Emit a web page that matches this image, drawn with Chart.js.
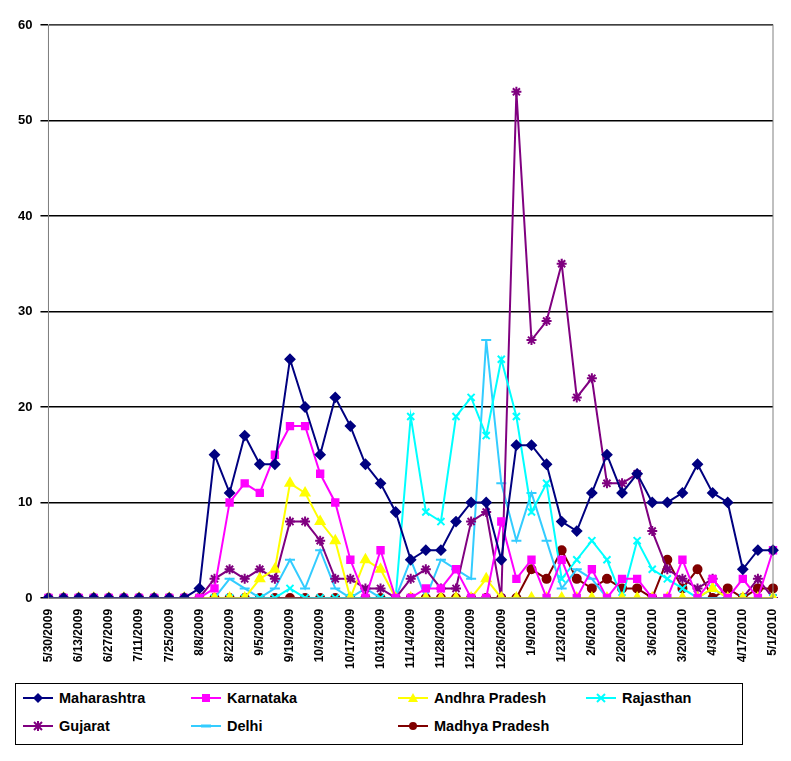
<!DOCTYPE html>
<html><head><meta charset="utf-8">
<script src="https://cdn.jsdelivr.net/npm/chart.js@4"></script>
<style>
body{margin:0;background:#fff;font-family:"Liberation Sans",Arial,sans-serif;}
#wrap{position:absolute;left:0;top:0;width:791px;height:672px;}
#legend{position:absolute;left:15px;top:683px;width:726px;height:60px;border:1px solid #000;font-weight:bold;font-size:14.5px;}
.it{position:absolute;display:flex;align-items:center;}
.it svg{margin-right:6px;}
</style></head><body>
<div id="wrap"><canvas id="c" width="791" height="672"></canvas></div>
<div id="legend"></div>
<script>
const labels=[];
(function(){let d=new Date(2009,4,30);for(let i=0;i<49;i++){labels.push((d.getMonth()+1)+'/'+d.getDate()+'/'+d.getFullYear());d.setDate(d.getDate()+7);}})();
const maharashtra=[0,0,0,0,0,0,0,0,0,0,1,15,11,17,14,14,25,20,15,21,18,14,12,9,4,5,5,8,10,10,4,16,16,14,8,7,11,15,11,13,10,10,11,14,11,10,3,5,5];
const karnataka=[0,0,0,0,0,0,0,0,0,0,0,1,10,12,11,15,18,18,13,10,4,0,5,0,0,1,1,3,0,0,8,2,4,0,4,0,3,0,2,2,0,0,4,0,2,0,2,0,5];
const andhra=[0,0,0,0,0,0,0,0,0,0,0,0,0,0,2,3,12,11,8,6,0,4,3,0,0,0,0,0,0,2,0,0,0,0,0,0,0,0,0,0,0,0,0,0,1,0,0,0,0];
const rajasthan=[0,0,0,0,0,0,0,0,0,0,0,0,0,0,0,0,1,0,0,0,0,0,0,0,19,9,8,19,21,17,25,19,9,12,2,4,6,4,0,6,3,2,1,0,1,0,0,0,0];
const gujarat=[0,0,0,0,0,0,0,0,0,0,0,2,3,2,3,2,8,8,6,2,2,1,1,0,2,3,1,1,8,9,0,53,27,29,35,21,23,12,12,13,7,3,2,1,2,0,0,2,0];
const delhi=[0,0,0,0,0,0,0,0,0,0,0,0,2,1,0,1,4,1,5,1,0,1,0,0,4,0,4,3,2,27,12,6,11,6,1,3,2,0,0,0,0,0,0,0,0,0,0,0,0];
const madhya=[0,0,0,0,0,0,0,0,0,0,0,0,0,0,0,0,0,0,0,0,0,0,0,0,0,0,0,0,0,0,0,0,3,2,5,2,1,2,1,1,0,4,1,3,0,1,0,1,1];
const yTicks=[0,10,20,30,40,50,60];
const series=[
 {label:'Maharashtra',data:maharashtra,color:'#000080',ps:'rectRot',r:4.5},
 {label:'Karnataka',data:karnataka,color:'#FF00FF',ps:'rect',r:4.5},
 {label:'Andhra Pradesh',data:andhra,color:'#FFFF00',ps:'triangle',r:5},
 {label:'Rajasthan',data:rajasthan,color:'#00FFFF',ps:'crossRot',r:5},
 {label:'Gujarat',data:gujarat,color:'#800080',ps:'star',r:5},
 {label:'Delhi',data:delhi,color:'#33CCFF',ps:'line',r:5},
 {label:'Madhya Pradesh',data:madhya,color:'#800000',ps:'circle',r:4}
];
new Chart(document.getElementById('c'),{type:'line',
 data:{labels,datasets:series.map(s=>({label:s.label,data:s.data,borderColor:s.color,backgroundColor:s.color,pointStyle:s.ps,pointRadius:s.r,pointBorderColor:s.color,pointBorderWidth:2,borderWidth:2,tension:0}))},
 options:{responsive:false,animation:false,devicePixelRatio:1,
  layout:{padding:{top:25,right:18,left:10}},
  plugins:{legend:{display:false},tooltip:{enabled:false}},
  scales:{
   x:{grid:{display:false,drawTicks:true},border:{color:'#808080'},
      ticks:{autoSkip:false,maxRotation:90,minRotation:90,color:'#000',font:{family:'Liberation Sans',size:12,weight:'bold'},
      callback:function(v,i){return i%2===0?labels[i]:'';}}},
   y:{min:0,max:60,afterBuildTicks:a=>{a.ticks=yTicks.map(v=>({value:v}));},
      grid:{color:'#000',lineWidth:1.5},border:{color:'#808080'},
      ticks:{color:'#000',font:{family:'Liberation Sans',size:13,weight:'bold'},padding:8}}
  }},
 plugins:[{id:'frame',afterDraw(ch){const a=ch.chartArea,c=ch.ctx;c.save();c.strokeStyle='#808080';c.lineWidth=1;c.strokeRect(a.left,a.top,a.right-a.left,a.bottom-a.top);c.restore();}}]
});
const pos=[[7,6],[175,6],[382,6],[570,6],[7,34],[175,34],[382,34]];
const lg=document.getElementById('legend');
function sym(s){let m='';const c=s.color;
 if(s.ps==='rectRot')m=`<polygon points="15,1 20,6 15,11 10,6" fill="${c}"/>`;
 else if(s.ps==='rect')m=`<rect x="11" y="2" width="8" height="8" fill="${c}"/>`;
 else if(s.ps==='triangle')m=`<polygon points="15,1 20,10 10,10" fill="${c}"/>`;
 else if(s.ps==='crossRot')m=`<path d="M11 2L19 10M19 2L11 10" stroke="${c}" stroke-width="2"/>`;
 else if(s.ps==='star')m=`<path d="M11 2L19 10M19 2L11 10M15 1L15 11" stroke="${c}" stroke-width="2"/>`;
 else if(s.ps==='line')m=`<path d="M10 6L20 6" stroke="${c}" stroke-width="3"/>`;
 else m=`<circle cx="15" cy="6" r="4" fill="${c}"/>`;
 return `<svg width="30" height="12"><path d="M0 6L30 6" stroke="${c}" stroke-width="2"/>${m}</svg>`;}
series.forEach((s,i)=>{const d=document.createElement('div');d.className='it';d.style.left=pos[i][0]+'px';d.style.top=pos[i][1]+'px';d.innerHTML=sym(s)+'<span>'+s.label+'</span>';lg.appendChild(d);});
</script>
</body></html>
